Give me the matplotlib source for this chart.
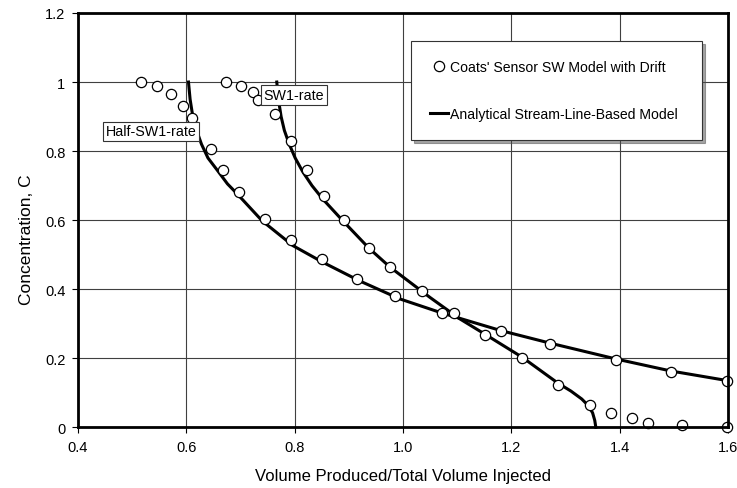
import matplotlib
matplotlib.use("Agg")
import matplotlib.pyplot as plt
from matplotlib.lines import Line2D
import numpy as np

plt.rcParams['font.family'] = ['Liberation Sans', 'DejaVu Sans']

# analytical stream-line model curves
half_x = [0.604, 0.607, 0.612, 0.619, 0.628, 0.640, 0.657, 0.676, 0.694, 0.740,
          0.797, 0.852, 0.920, 0.994, 1.072, 1.181, 1.271, 1.393, 1.495, 1.600]
half_c = [1.000, 0.950, 0.900, 0.860, 0.820, 0.780, 0.745, 0.705, 0.676, 0.598,
          0.526, 0.478, 0.424, 0.372, 0.331, 0.280, 0.244, 0.198, 0.163, 0.135]

sw1_x = [0.767, 0.770, 0.775, 0.781, 0.790, 0.801, 0.815, 0.832, 0.852, 0.889,
         0.937, 0.976, 1.050, 1.105, 1.151, 1.220, 1.286, 1.310, 1.330, 1.342,
         1.350, 1.354, 1.356]
sw1_c = [1.000, 0.950, 0.900, 0.860, 0.820, 0.780, 0.740, 0.700, 0.661, 0.598,
         0.519, 0.464, 0.376, 0.314, 0.270, 0.203, 0.128, 0.105, 0.082, 0.063,
         0.042, 0.020, 0.000]

# Coats' sensor SW model with drift (circles)
half_pts_x = [0.516, 0.546, 0.572, 0.593, 0.610, 0.646, 0.668, 0.697, 0.745, 0.793,
              0.850, 0.915, 0.985, 1.094, 1.181, 1.271, 1.393, 1.495, 1.598]
half_pts_c = [1.000, 0.988, 0.965, 0.931, 0.895, 0.806, 0.745, 0.681, 0.603, 0.542,
              0.487, 0.430, 0.380, 0.331, 0.279, 0.241, 0.195, 0.160, 0.134]

sw1_pts_x = [0.673, 0.701, 0.724, 0.732, 0.764, 0.793, 0.823, 0.854, 0.891, 0.937,
             0.976, 1.035, 1.072, 1.151, 1.220, 1.286, 1.345, 1.384, 1.423, 1.453,
             1.515, 1.598]
sw1_pts_c = [1.000, 0.988, 0.972, 0.947, 0.907, 0.830, 0.745, 0.670, 0.600, 0.519,
             0.464, 0.395, 0.331, 0.267, 0.201, 0.123, 0.064, 0.041, 0.027, 0.012,
             0.007, 0.000]

x_ticks = [0.4, 0.6, 0.8, 1.0, 1.2, 1.4, 1.6]
x_labels = ['0.4', '0.6', '0.8', '1.0', '1.2', '1.4', '1.6']
y_ticks = [0, 0.2, 0.4, 0.6, 0.8, 1.0, 1.2]
y_labels = ['0', '0.2', '0.4', '0.6', '0.8', '1', '1.2']

fig = plt.figure(figsize=(7.37, 4.89), dpi=100)
ax = fig.add_axes([0.1058, 0.1241, 0.8820, 0.8473])

ax.plot(half_x, half_c, color='black', lw=2.2, zorder=3, clip_on=False)
ax.plot(sw1_x, sw1_c, color='black', lw=2.2, zorder=3, clip_on=False)
mk = dict(ls='none', marker='o', ms=7.4, mfc='white', mec='black', mew=0.9,
          zorder=4, clip_on=False)
ax.plot(half_pts_x, half_pts_c, **mk)
ax.plot(sw1_pts_x, sw1_pts_c, **mk)

ax.set_xlim(0.4, 1.6)
ax.set_ylim(0, 1.2)
ax.set_xticks(x_ticks)
ax.set_xticklabels(x_labels)
ax.set_yticks(y_ticks)
ax.set_yticklabels(y_labels)
ax.tick_params(direction='out', length=4, width=0.8, labelsize=10.5, pad=5)
ax.grid(color='0.25', lw=0.8)
ax.set_axisbelow(True)
for s in ax.spines.values():
    s.set_linewidth(2)
    s.set_zorder(5)

ax.set_xlabel('Volume Produced/Total Volume Injected', fontsize=12, labelpad=10)
ax.set_ylabel('Concentration, C', fontsize=12.5)
ax.yaxis.set_label_coords(-0.068, 0.455)

box = dict(boxstyle='square,pad=0.2', fc='white', ec='0.2', lw=0.8)
ax.text(0.535, 0.857, 'Half-SW1-rate', ha='center', va='center', fontsize=10.3, bbox=box, zorder=6)
ax.text(0.799, 0.962, 'SW1-rate', ha='center', va='center', fontsize=10.3, bbox=box, zorder=6)

handles = [Line2D([], [], ls='none', marker='o', ms=7.4, mfc='white', mec='black', mew=0.9),
           Line2D([], [], color='black', lw=2.2)]
names = ["Coats' Sensor SW Model with Drift", 'Analytical Stream-Line-Based Model']
leg = ax.legend(handles, names, loc='upper left', bbox_to_anchor=(0.512, 0.698, 0.448, 0.234),
                mode='expand', fontsize=10.1, frameon=True, fancybox=False, shadow=True,
                borderpad=1.36, labelspacing=2.35, handlelength=1.3, handletextpad=0.15,
                borderaxespad=0, numpoints=1)
leg.get_frame().set_edgecolor('0.2')
leg.get_frame().set_linewidth(0.8)
leg.set_zorder(7)

fig.savefig('out.png', dpi=100)
